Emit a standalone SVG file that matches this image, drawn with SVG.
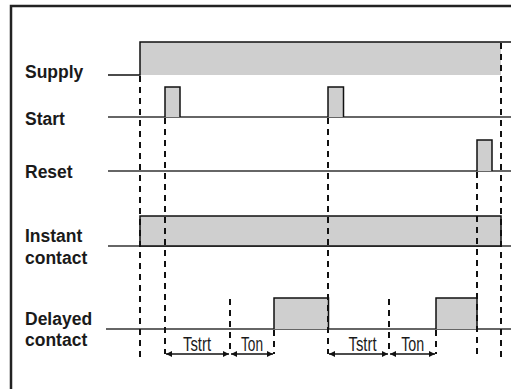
<svg xmlns="http://www.w3.org/2000/svg" width="511" height="389" viewBox="0 0 511 389">
<defs>
<style>
.lbl{font-family:"Liberation Sans",Arial,sans-serif;font-weight:bold;font-size:17.5px;fill:#1a1a1a}
.tl{font-family:"Liberation Sans",Arial,sans-serif;font-size:20px;fill:#1a1a1a;text-anchor:middle}
.base{stroke:#333;stroke-width:1.3;fill:none}
.sig{fill:#cfcfcf;stroke:#111;stroke-width:1.5}
.dash{stroke:#111;stroke-width:2;stroke-dasharray:6 5;fill:none}
.arr{stroke:#111;stroke-width:1.5;fill:none;marker-start:url(#ah);marker-end:url(#ah)}
</style>
<marker id="ah" viewBox="0 0 10 10" refX="10" refY="5" markerWidth="7" markerHeight="6" orient="auto-start-reverse" markerUnits="userSpaceOnUse">
<path d="M0,0 L10,5 L0,10 z" fill="#111"/>
</marker>
</defs>
<rect width="511" height="389" fill="#fff"/>
<path d="M11,389 V6 H511" fill="none" stroke="#222" stroke-width="2.5"/>

<g id="supply">
<text class="lbl" x="25" y="78">Supply</text>
<rect x="140" y="42" width="361" height="33" fill="#cfcfcf"/>
<path d="M108,75 H140 V42 H511" fill="none" stroke="#111" stroke-width="1.5"/>
</g>

<g id="start">
<text class="lbl" x="25" y="125">Start</text>
<line class="base" x1="108" y1="117" x2="511" y2="117"/>
<path class="sig" d="M165,117 V87 H180 V117"/>
<path class="sig" d="M328,117 V87 H343.5 V117"/>
</g>

<g id="reset">
<text class="lbl" x="25" y="178">Reset</text>
<line class="base" x1="108" y1="171" x2="511" y2="171"/>
<path class="sig" d="M477,171 V140 H492 V171"/>
</g>

<g id="instant">
<text class="lbl" x="25" y="242">Instant</text>
<text class="lbl" x="25" y="264">contact</text>
<line class="base" x1="108" y1="246" x2="511" y2="246"/>
<path class="sig" d="M140,246 V216 H501 V246 Z"/>
</g>

<g id="delayed">
<text class="lbl" x="25" y="325">Delayed</text>
<text class="lbl" x="25" y="346">contact</text>
<line class="base" x1="106" y1="329" x2="511" y2="329"/>
<path class="sig" d="M274,329 V298 H328.5 V329"/>
<path class="sig" d="M436,329 V298 H477 V329"/>
</g>

<g id="connectors">
<line class="dash" x1="140" y1="76" x2="140" y2="358"/>
<line class="dash" x1="165" y1="118" x2="165" y2="354"/>
<line class="dash" x1="230" y1="299" x2="230" y2="354"/>
<line class="dash" x1="274" y1="330" x2="274" y2="354"/>
<line class="dash" x1="328" y1="118" x2="328" y2="354"/>
<line class="dash" x1="389" y1="299" x2="389" y2="354"/>
<line class="dash" x1="436" y1="330" x2="436" y2="354"/>
<line class="dash" x1="477" y1="172" x2="477" y2="354"/>
<line class="dash" x1="501" y1="43" x2="501" y2="358"/>
<line class="arr" x1="166" y1="354" x2="229" y2="354"/>
<line class="arr" x1="231" y1="354" x2="273" y2="354"/>
<line class="arr" x1="329" y1="354" x2="388" y2="354"/>
<line class="arr" x1="390" y1="354" x2="435" y2="354"/>
</g>

<g id="time-labels">
<text class="tl" x="197" y="351" textLength="28" lengthAdjust="spacingAndGlyphs">Tstrt</text>
<text class="tl" x="252" y="351" textLength="22" lengthAdjust="spacingAndGlyphs">Ton</text>
<text class="tl" x="362.5" y="351" textLength="28" lengthAdjust="spacingAndGlyphs">Tstrt</text>
<text class="tl" x="412.7" y="351" textLength="23" lengthAdjust="spacingAndGlyphs">Ton</text>
</g>
</svg>
